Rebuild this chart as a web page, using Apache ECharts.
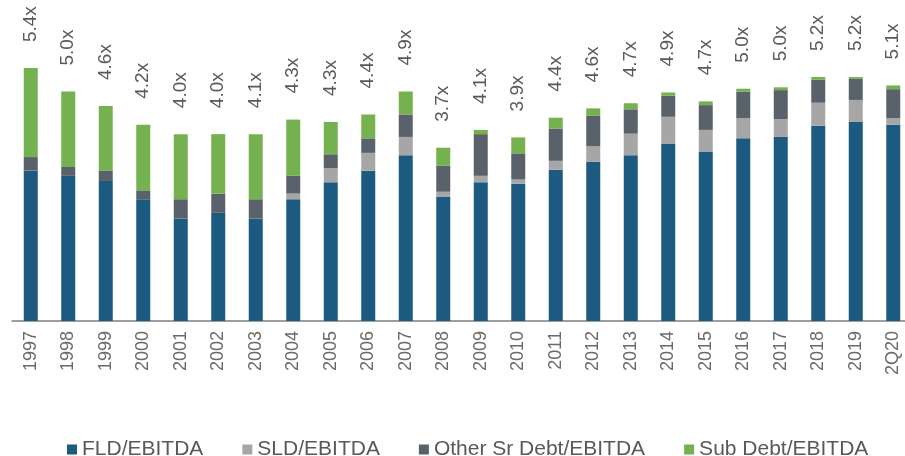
<!DOCTYPE html>
<html>
<head>
<meta charset="utf-8">
<script src="https://cdn.jsdelivr.net/npm/echarts@6/dist/echarts.min.js"></script>
<style>
  html, body { margin: 0; padding: 0; background: #fff; }
  #chart { width: 905px; height: 456px; }
</style>
</head>
<body>
<div id="chart"></div>
<script>
const years = ['1997', '1998', '1999', '2000', '2001', '2002', '2003', '2004', '2005', '2006', '2007', '2008',
  '2009', '2010', '2011', '2012', '2013', '2014', '2015', '2016', '2017', '2018', '2019', '2Q20']

const fld = [3.21, 3.10, 2.99, 2.60, 2.19, 2.31, 2.19, 2.60, 2.96, 3.21, 3.54, 2.66,
  2.96, 2.93, 3.23, 3.40, 3.54, 3.78, 3.62, 3.90, 3.93, 4.17, 4.25, 4.19]
const sld = [0, 0, 0, 0, 0, 0, 0, 0.12, 0.30, 0.38, 0.39, 0.10,
  0.14, 0.09, 0.19, 0.33, 0.46, 0.58, 0.46, 0.43, 0.38, 0.49, 0.47, 0.14]
const otherSr = [0.29, 0.19, 0.22, 0.19, 0.41, 0.41, 0.41, 0.38, 0.30, 0.31, 0.48, 0.56,
  0.89, 0.56, 0.69, 0.65, 0.52, 0.45, 0.53, 0.57, 0.62, 0.49, 0.45, 0.62]
const subDebt = [1.90, 1.61, 1.38, 1.40, 1.39, 1.27, 1.39, 1.20, 0.69, 0.51, 0.49, 0.38,
  0.09, 0.34, 0.23, 0.16, 0.13, 0.07, 0.08, 0.06, 0.06, 0.06, 0.04, 0.08]
// total labels printed above the bars
const totals = [5.4, 5.0, 4.6, 4.2, 4.0, 4.0, 4.1, 4.3, 4.3, 4.4, 4.9, 3.7,
  4.1, 3.9, 4.4, 4.6, 4.7, 4.9, 4.7, 5.0, 5.0, 5.2, 5.2, 5.1]

const names = ['FLD/EBITDA', 'SLD/EBITDA', 'Other Sr Debt/EBITDA', 'Sub Debt/EBITDA']
const colors = ['#1C5B7F', '#A6A6A6', '#59626B', '#76B150']
const font = 'Liberation Sans, Arial, sans-serif'

const myChart = echarts.init(document.getElementById('chart'))

function barSeries(i, data) {
  return {
    name: names[i],
    type: 'bar',
    stack: 'total',
    barWidth: 14,
    itemStyle: { color: colors[i] },
    data: data
  }
}

const series = [barSeries(0, fld), barSeries(1, sld), barSeries(2, otherSr), barSeries(3, subDebt)]
series[3].label = {
  show: true,
  position: 'top',
  distance: 26,
  rotate: 90,
  align: 'left',
  verticalAlign: 'middle',
  fontFamily: font,
  fontSize: 19,
  color: '#5a5a5a',
  formatter: function (p) {
    return totals[p.dataIndex].toFixed(1) + 'x'
  }
}

const option = {
  animation: false,
  color: colors,
  legend: {
    left: 62,
    top: 434,
    itemWidth: 10,
    itemHeight: 10,
    itemGap: 39,
    icon: 'rect',
    textStyle: { fontFamily: font, fontSize: 21, color: '#595959' },
    data: names
  },
  grid: {
    left: 12,
    top: 40,
    width: 900,
    height: 281,
    outerBoundsMode: 'none'
  },
  xAxis: {
    type: 'category',
    data: years,
    axisLine: { lineStyle: { color: '#7f7f7f', width: 1.5 } },
    axisTick: { length: 5, lineStyle: { color: '#7f7f7f', width: 1.5 } },
    axisLabel: {
      rotate: 90,
      margin: 10,
      fontFamily: font,
      fontSize: 18,
      color: '#6a6a6a'
    }
  },
  yAxis: {
    type: 'value',
    min: 0,
    max: 6,
    show: false,
    splitLine: { show: false }
  },
  series: series
}
myChart.setOption(option)
</script>
</body>
</html>
